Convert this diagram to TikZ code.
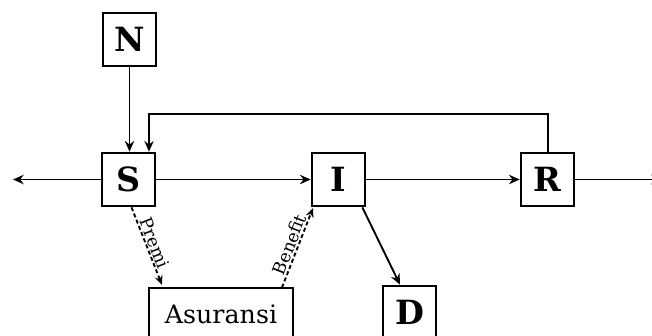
\documentclass[tikz,border=0pt]{standalone}
\usepackage{fontspec}
\setmainfont{DejaVu Serif}
\usetikzlibrary{arrows.meta}
\begin{document}
\begin{tikzpicture}[x=0.75pt,y=-0.75pt,
  box/.style={draw,line width=2pt,minimum width=39.75pt,minimum height=39.75pt,inner sep=0pt,font=\fontsize{25}{28}\selectfont\bfseries},
  wbox/.style={draw,line width=2pt,minimum width=108pt,minimum height=39.75pt,inner sep=0pt,font=\fontsize{19}{22}\selectfont},
  conn/.style={line width=1.4pt,-{Stealth[length=8pt,width=7pt]}},
  dconn/.style={line width=1.4pt,densely dashed,-{Stealth[length=7pt,width=6pt]}},
  lab/.style={font=\fontsize{13}{15}\selectfont,sloped,above,inner sep=1pt}]
\useasboundingbox (0,0) rectangle (652,335);
\node[box] (N) at (129.5,39.5) {N};
\node[box] (S) at (128.5,179.5) {S};
\node[box] (I) at (338.5,179.5) {I};
\node[box] (R) at (547.5,179.5) {R};
\node[box] (D) at (409.5,312.5) {D};
\node[wbox] (A) at (221,314.5) {Asuransi};
\coordinate (L) at (13,179.5);
\coordinate (E) at (662,179.5);
\coordinate (T1) at (548,114);
\coordinate (T2) at (149,114);
\draw[conn] (N) -- (N|-S.north);
\draw[conn] (S) -- (L);
\draw[conn] (S) -- (I);
\draw[conn] (I) -- (R);
\draw[conn] (R) -- (E);
\draw[conn] (R.north -| T1) -- (T1) -- (T2) -- (T2 |- S.north);
\draw[conn] (I.south east) ++(-4,0) coordinate (Ia) (Ia) -- (D.north -| 400,0);
\draw[dconn] (S.south) ++(3,0) coordinate (Sa) (Sa) -- node[lab] {Premi} (162,285);
\draw[dconn] (282,287.5) coordinate (Ab) -- node[lab] {Benefit} (313,208);
\end{tikzpicture}
\end{document}
